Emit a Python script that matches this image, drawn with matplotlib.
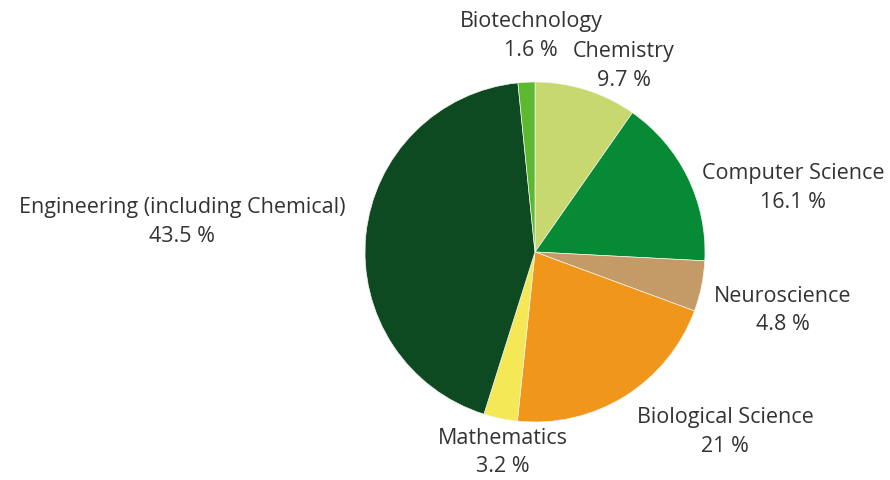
import matplotlib
matplotlib.use("Agg")
import matplotlib.pyplot as plt

# slices, clockwise from 12 o'clock
labels = ["Chemistry", "Computer Science", "Neuroscience", "Biological Science",
          "Mathematics", "Engineering (including Chemical)", "Biotechnology"]
shares = [9.7, 16.1, 4.8, 21, 3.2, 43.5, 1.6]
pct_text = ["9.7 %", "16.1 %", "4.8 %", "21 %", "3.2 %", "43.5 %", "1.6 %"]
colors = ["#c6d86e", "#078a36", "#c49a66", "#f0961a", "#f5e857", "#0d4a22", "#5cb82e"]

# label centres in pixels (name line, value line below)
label_px = [(624, 52), (793, 173), (783, 296), (725, 418), (503, 438), (182, 208), (531, 22)]

W, H = 890, 480
cx, cy, r = 535, 252, 170

plt.rcParams["font.family"] = ["Open Sans", "DejaVu Sans"]
fig = plt.figure(figsize=(W / 100, H / 100), dpi=100)
ax = fig.add_axes([(cx - r) / W, (H - cy - r) / H, 2 * r / W, 2 * r / H])
ax.pie(shares, colors=colors, startangle=90, counterclock=False,
       wedgeprops=dict(edgecolor="#f4f4ee", linewidth=0.5))
ax.set_xlim(-1, 1)
ax.set_ylim(-1, 1)
ax.set_aspect("equal")
ax.axis("off")

for name, pct, (px, py) in zip(labels, pct_text, label_px):
    fig.text(px / W, 1 - py / H, name, ha="center", va="center",
             fontsize=15.5, color="#333333")
    fig.text(px / W, 1 - (py + 29) / H, pct, ha="center", va="center",
             fontsize=15.5, color="#333333")

fig.savefig("out.png", dpi=100)
